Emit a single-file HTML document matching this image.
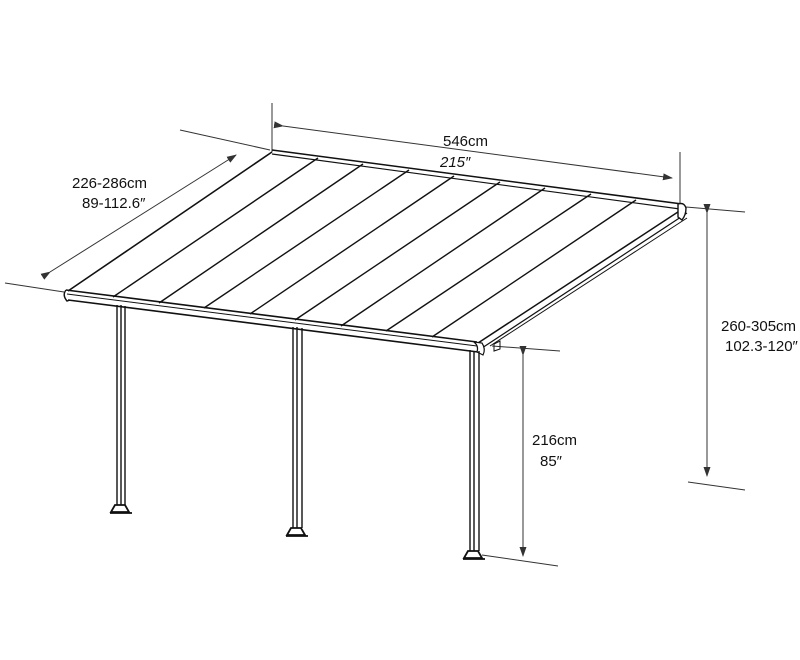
<!DOCTYPE html>
<html><head><meta charset="utf-8"><style>
html,body{margin:0;padding:0;background:#fff;}
svg{display:block;}
text{font-family:"Liberation Sans",sans-serif;font-size:15px;fill:#111;}
</style></head><body>
<svg width="800" height="660" viewBox="0 0 800 660" xmlns="http://www.w3.org/2000/svg">
<defs>
<marker id="a" markerWidth="10" markerHeight="7" refX="9" refY="3.5" orient="auto" markerUnits="userSpaceOnUse">
<path d="M0,0 L10,3.5 L0,7 Z" fill="#333"/></marker>
</defs>
<g stroke="#333" stroke-width="1" fill="none">
<line x1="272" y1="103" x2="272" y2="152"/>
<line x1="680" y1="152" x2="680" y2="205"/>
<line x1="180" y1="130" x2="270" y2="150"/>
<line x1="5" y1="283" x2="64" y2="292"/>
<line x1="686" y1="207" x2="745" y2="212"/>
<line x1="688" y1="482" x2="745" y2="490"/>
<line x1="492" y1="346" x2="560" y2="351"/>
<line x1="482" y1="555" x2="558" y2="566"/>
<line x1="283" y1="126" x2="672" y2="178" marker-start="url(#a)" marker-end="url(#a)"/>
<line x1="50" y1="272" x2="236" y2="155" marker-start="url(#a)" marker-end="url(#a)"/>
<line x1="707" y1="213" x2="707" y2="476" marker-start="url(#a)" marker-end="url(#a)"/>
<line x1="523" y1="355" x2="523" y2="556" marker-start="url(#a)" marker-end="url(#a)"/>
</g>
<g stroke="#111" fill="none">
<line x1="272" y1="152" x2="68" y2="291" stroke-width="1.6"/>
<line x1="272" y1="150" x2="682" y2="204" stroke-width="1.5"/>
<line x1="272" y1="154" x2="680" y2="209" stroke-width="1.2"/>
<line x1="684" y1="208" x2="478" y2="343" stroke-width="1.5"/>
<line x1="687" y1="213" x2="482" y2="348" stroke-width="1.2"/>
<line x1="687" y1="218" x2="490" y2="346" stroke-width="1"/>
<path d="M678,204 q6,-2 8,4 q0,7 -4,12 l-4,-3 z" stroke-width="1.4" fill="#fff"/>
<g stroke-width="1.4">
<line x1="318" y1="158" x2="113" y2="297"/>
<line x1="363" y1="164" x2="159" y2="303"/>
<line x1="409" y1="170" x2="204" y2="308"/>
<line x1="454" y1="176" x2="250" y2="314"/>
<line x1="500" y1="182" x2="295" y2="320"/>
<line x1="545" y1="188" x2="341" y2="326"/>
<line x1="591" y1="194" x2="386" y2="331"/>
<line x1="636" y1="200" x2="432" y2="337"/>
</g>
<line x1="66" y1="290" x2="477" y2="342" stroke-width="1.6"/>
<line x1="67" y1="294" x2="477" y2="346" stroke-width="1"/>
<line x1="68" y1="300" x2="478" y2="352" stroke-width="1.6"/>
<path d="M66,290 q-4,5 1,11 l3,-1" stroke-width="1.4"/>
<path d="M474,342 q5,4 3,10 l6,3 q3,-6 -1,-12 z" stroke-width="1.2" fill="#fff"/>
<path d="M494,344 l6,-3 l0,8 l-6,2 z" stroke-width="1"/>
<g stroke-width="1.4">
<line x1="117" y1="305" x2="117" y2="505"/><line x1="121" y1="305" x2="121" y2="505"/><line x1="125" y1="306" x2="125" y2="505"/>
<line x1="293" y1="327" x2="293" y2="528"/><line x1="297" y1="327" x2="297" y2="528"/><line x1="302" y1="328" x2="302" y2="528"/>
<line x1="470" y1="350" x2="470" y2="551"/><line x1="474" y1="351" x2="474" y2="551"/><line x1="479" y1="351" x2="479" y2="551"/>
</g>
<g stroke-width="1.8" fill="#fff">
<path d="M115,505 l-4,7 h18 l-4,-7 z"/><line x1="110" y1="513" x2="132" y2="513"/>
<path d="M291,528 l-4,7 h18 l-4,-7 z"/><line x1="286" y1="536" x2="308" y2="536"/>
<path d="M468,551 l-4,7 h18 l-4,-7 z"/><line x1="463" y1="559" x2="485" y2="559"/>
</g>
</g>
<text x="443" y="146">546cm</text>
<text x="440" y="167" font-style="italic">215″</text>
<text x="72" y="188">226-286cm</text>
<text x="82" y="208">89-112.6″</text>
<text x="721" y="331">260-305cm</text>
<text x="725" y="351">102.3-120″</text>
<text x="532" y="445">216cm</text>
<text x="540" y="466">85″</text>
</svg>
</body></html>
